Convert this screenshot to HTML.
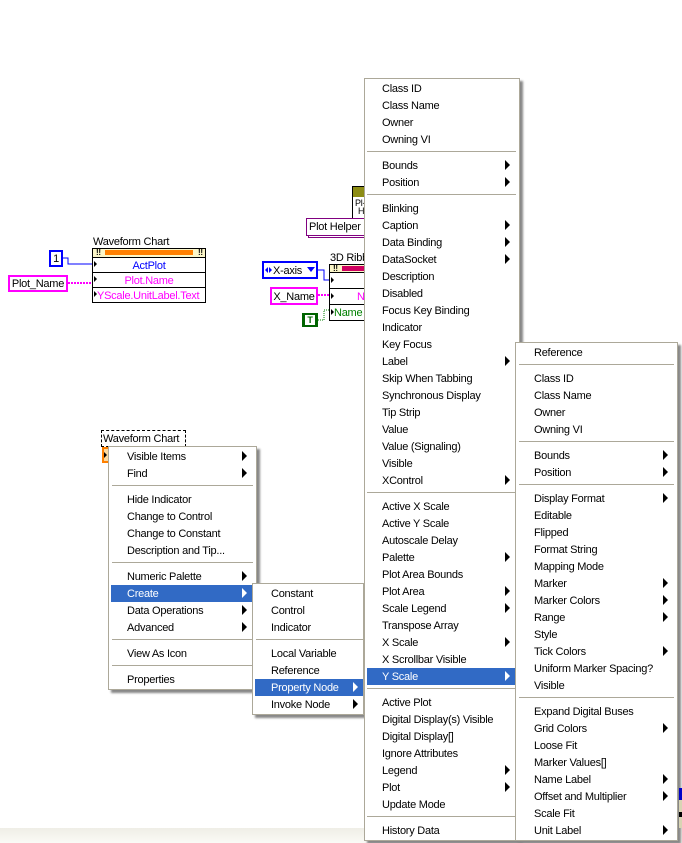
<!DOCTYPE html>
<html><head><meta charset="utf-8"><style>
html,body{margin:0;padding:0;background:#fff}
#p{position:relative;width:682px;height:843px;overflow:hidden;background:#fff;font:11px/20px "Liberation Sans",sans-serif;letter-spacing:-.25px;color:#000}
#p div{position:absolute;box-sizing:border-box;white-space:nowrap}
.m{background:#fff;border:1px solid #aca899;box-shadow:3px 3px 2px #888}
.s{height:1px;background:#aca899}
.h{background:#316ac5}
.a{width:0;height:0;border-left:5px solid #000;border-top:5px solid transparent;border-bottom:5px solid transparent}
.w{border-left-color:#fff!important}
.c{color:#fff}
.n{border:1px solid #000;background:#fff}
</style></head><body><div id="p">
<div style="left:0;top:828px;width:682px;height:15px;background:linear-gradient(#efeee6,#fafaf6)"></div>

<svg style="position:absolute;left:0;top:0" width="682" height="843" shape-rendering="crispEdges">
<path d="M62 258H68V264H92" fill="none" stroke="#00f" stroke-width="1"/>
<path d="M68 283H92" fill="none" stroke="#f0f" stroke-width="2" stroke-dasharray="2 1"/>
<path d="M318 270H324V280H329" fill="none" stroke="#00f"/>
<path d="M318 295H329" fill="none" stroke="#f0f" stroke-width="2" stroke-dasharray="2 1"/>
<path d="M318 320H324V310H329" fill="none" stroke="#008000" stroke-dasharray="1 1"/>
</svg>

<div style="left:93px;top:232px">Waveform Chart</div>
<div class="n" style="left:92px;top:248px;width:114px;height:55px"></div>
<div style="left:93px;top:249px;width:112px;height:8px;background:#fbf6c8"></div>
<div style="left:105px;top:250px;width:88px;height:5px;background:#ff8000"></div>
<div style="left:96px;top:248px;font:bold 8px/10px 'Liberation Sans',sans-serif">!!</div>
<div style="left:198px;top:248px;font:bold 8px/10px 'Liberation Sans',sans-serif">!!</div>
<div style="left:92px;top:257px;width:114px;height:1px;background:#000"></div>
<div style="left:92px;top:272px;width:114px;height:1px;background:#000"></div>
<div style="left:92px;top:287px;width:114px;height:1px;background:#000"></div>
<div class="a" style="left:94px;top:261px;border-left-width:3px;border-top-width:3px;border-bottom-width:3px"></div>
<div class="a" style="left:94px;top:276px;border-left-width:3px;border-top-width:3px;border-bottom-width:3px"></div>
<div class="a" style="left:94px;top:291px;border-left-width:3px;border-top-width:3px;border-bottom-width:3px"></div>
<div style="left:92px;top:256px;width:114px;text-align:center;color:#00f">ActPlot</div>
<div style="left:92px;top:271px;width:114px;text-align:center;color:#f0f">Plot.Name</div>
<div style="left:97px;top:286px;color:#f0f">YScale.UnitLabel.Text</div>
<div style="left:49px;top:250px;width:14px;height:17px;border:2px solid #00f;background:#fff;text-align:center;line-height:15px">1</div>
<div style="left:8px;top:275px;width:60px;height:17px;border:2px solid #f0f;background:#fff;text-align:center;line-height:15px">Plot_Name</div>

<div class="n" style="left:352px;top:186px;width:16px;height:33px"></div>
<div style="left:353px;top:187px;width:14px;height:10px;background:#8c8c14"></div>
<div style="left:355px;top:198px;font-size:9px;line-height:10px">Pl-</div>
<div style="left:358px;top:206px;font-size:9px;line-height:10px">H</div>
<div style="left:308px;top:220px;width:60px;height:18px;border:1px solid #800080;background:#fff"></div>
<div style="left:306px;top:218px;width:62px;height:18px;border:1px solid #800080;background:#fff;padding-left:2px;line-height:17px">Plot Helper</div>

<div style="left:330px;top:248px">3D Ribb</div>
<div class="n" style="left:329px;top:264px;width:40px;height:57px"></div>
<div style="left:330px;top:265px;width:38px;height:8px;background:#fbf6c8"></div>
<div style="left:342px;top:266px;width:26px;height:5px;background:#d00060"></div>
<div style="left:333px;top:264px;font:bold 8px/10px 'Liberation Sans',sans-serif">!!</div>
<div style="left:329px;top:272px;width:40px;height:1px;background:#000"></div>
<div style="left:329px;top:288px;width:40px;height:1px;background:#000"></div>
<div style="left:329px;top:304px;width:40px;height:1px;background:#000"></div>
<div class="a" style="left:331px;top:277px;border-left-width:3px;border-top-width:3px;border-bottom-width:3px"></div>
<div class="a" style="left:331px;top:293px;border-left-width:3px;border-top-width:3px;border-bottom-width:3px"></div>
<div class="a" style="left:331px;top:309px;border-left-width:3px;border-top-width:3px;border-bottom-width:3px"></div>
<div style="left:357px;top:287px;color:#f0f">N</div>
<div style="left:334px;top:303px;color:#008000">Name</div>
<div style="left:262px;top:261px;width:56px;height:18px;border:2px solid #00f;background:#fff;padding-left:9px;line-height:16px">X-axis</div>
<div class="a" style="left:265px;top:267px;border-left:0;border-right:3px solid #00f;border-top-width:3px;border-bottom-width:3px"></div>
<div class="a" style="left:269px;top:267px;border-left:3px solid #00f;border-top-width:3px;border-bottom-width:3px"></div>
<div style="left:307px;top:267px;width:0;height:0;border-top:5px solid #00f;border-left:4px solid transparent;border-right:4px solid transparent"></div>
<div style="left:270px;top:287px;width:48px;height:18px;border:2px solid #f0f;background:#fff;text-align:center;line-height:16px">X_Name</div>
<div style="left:302px;top:313px;width:16px;height:14px;background:#006400;border:2px solid #006400"></div>
<div style="left:305px;top:315px;width:10px;height:10px;background:#fff;color:#006400;font:bold 9px/10px 'Liberation Sans',sans-serif;text-align:center">T</div>

<div style="left:101px;top:430px;width:85px;height:17px;border:1px dashed #000;padding-left:1px;line-height:16px;background:#fff">Waveform Chart</div>
<div style="left:102px;top:447px;width:10px;height:16px;border:2px solid #ff8000;background:#fbd9a0"></div>
<div class="a" style="left:104px;top:452px;border-left-width:3px;border-top-width:3px;border-bottom-width:3px"></div>

<div class="m" style="left:108px;top:446px;width:149px;height:244px"></div>
<div class="h" style="left:111px;top:585px;width:142px;height:17px"></div>
<div style="left:127px;top:447px">Visible Items</div><div class="a" style="left:242px;top:451px"></div>
<div style="left:127px;top:464px">Find</div><div class="a" style="left:242px;top:468px"></div>
<div class="s" style="left:112px;top:485px;width:141px"></div>
<div style="left:127px;top:490px">Hide Indicator</div>
<div style="left:127px;top:507px">Change to Control</div>
<div style="left:127px;top:524px">Change to Constant</div>
<div style="left:127px;top:541px">Description and Tip...</div>
<div class="s" style="left:112px;top:562px;width:141px"></div>
<div style="left:127px;top:567px">Numeric Palette</div><div class="a" style="left:242px;top:571px"></div>
<div class="c" style="left:127px;top:584px">Create</div><div class="a w" style="left:242px;top:588px"></div>
<div style="left:127px;top:601px">Data Operations</div><div class="a" style="left:242px;top:605px"></div>
<div style="left:127px;top:618px">Advanced</div><div class="a" style="left:242px;top:622px"></div>
<div class="s" style="left:112px;top:639px;width:141px"></div>
<div style="left:127px;top:644px">View As Icon</div>
<div class="s" style="left:112px;top:665px;width:141px"></div>
<div style="left:127px;top:670px">Properties</div>

<div class="m" style="left:252px;top:583px;width:112px;height:132px"></div>
<div class="h" style="left:255px;top:679px;width:108px;height:17px"></div>
<div style="left:271px;top:584px">Constant</div>
<div style="left:271px;top:601px">Control</div>
<div style="left:271px;top:618px">Indicator</div>
<div class="s" style="left:256px;top:639px;width:107px"></div>
<div style="left:271px;top:644px">Local Variable</div>
<div style="left:271px;top:661px">Reference</div>
<div class="c" style="left:271px;top:678px">Property Node</div><div class="a w" style="left:353px;top:682px"></div>
<div style="left:271px;top:695px">Invoke Node</div><div class="a" style="left:353px;top:699px"></div>

<div class="m" style="left:364px;top:78px;width:156px;height:763px"></div>
<div class="h" style="left:367px;top:668px;width:148px;height:17px"></div>
<div style="left:382px;top:79px">Class ID</div>
<div style="left:382px;top:96px">Class Name</div>
<div style="left:382px;top:113px">Owner</div>
<div style="left:382px;top:130px">Owning VI</div>
<div class="s" style="left:367px;top:151px;width:149px"></div>
<div style="left:382px;top:156px">Bounds</div><div class="a" style="left:505px;top:160px"></div>
<div style="left:382px;top:173px">Position</div><div class="a" style="left:505px;top:177px"></div>
<div class="s" style="left:367px;top:194px;width:149px"></div>
<div style="left:382px;top:199px">Blinking</div>
<div style="left:382px;top:216px">Caption</div><div class="a" style="left:505px;top:220px"></div>
<div style="left:382px;top:233px">Data Binding</div><div class="a" style="left:505px;top:237px"></div>
<div style="left:382px;top:250px">DataSocket</div><div class="a" style="left:505px;top:254px"></div>
<div style="left:382px;top:267px">Description</div>
<div style="left:382px;top:284px">Disabled</div>
<div style="left:382px;top:301px">Focus Key Binding</div>
<div style="left:382px;top:318px">Indicator</div>
<div style="left:382px;top:335px">Key Focus</div>
<div style="left:382px;top:352px">Label</div><div class="a" style="left:505px;top:356px"></div>
<div style="left:382px;top:369px">Skip When Tabbing</div>
<div style="left:382px;top:386px">Synchronous Display</div>
<div style="left:382px;top:403px">Tip Strip</div>
<div style="left:382px;top:420px">Value</div>
<div style="left:382px;top:437px">Value (Signaling)</div>
<div style="left:382px;top:454px">Visible</div>
<div style="left:382px;top:471px">XControl</div><div class="a" style="left:505px;top:475px"></div>
<div class="s" style="left:367px;top:492px;width:149px"></div>
<div style="left:382px;top:497px">Active X Scale</div>
<div style="left:382px;top:514px">Active Y Scale</div>
<div style="left:382px;top:531px">Autoscale Delay</div>
<div style="left:382px;top:548px">Palette</div><div class="a" style="left:505px;top:552px"></div>
<div style="left:382px;top:565px">Plot Area Bounds</div>
<div style="left:382px;top:582px">Plot Area</div><div class="a" style="left:505px;top:586px"></div>
<div style="left:382px;top:599px">Scale Legend</div><div class="a" style="left:505px;top:603px"></div>
<div style="left:382px;top:616px">Transpose Array</div>
<div style="left:382px;top:633px">X Scale</div><div class="a" style="left:505px;top:637px"></div>
<div style="left:382px;top:650px">X Scrollbar Visible</div>
<div class="c" style="left:382px;top:667px">Y Scale</div><div class="a w" style="left:505px;top:671px"></div>
<div class="s" style="left:367px;top:688px;width:149px"></div>
<div style="left:382px;top:693px">Active Plot</div>
<div style="left:382px;top:710px">Digital Display(s) Visible</div>
<div style="left:382px;top:727px">Digital Display[]</div>
<div style="left:382px;top:744px">Ignore Attributes</div>
<div style="left:382px;top:761px">Legend</div><div class="a" style="left:505px;top:765px"></div>
<div style="left:382px;top:778px">Plot</div><div class="a" style="left:505px;top:782px"></div>
<div style="left:382px;top:795px">Update Mode</div>
<div class="s" style="left:367px;top:816px;width:149px"></div>
<div style="left:382px;top:821px">History Data</div>

<div class="m" style="left:515px;top:342px;width:163px;height:499px"></div>
<div style="left:679px;top:788px;width:3px;height:40px;background:#d8d4b4"></div>
<div style="left:679px;top:788px;width:3px;height:12px;background:#0000c8"></div>
<div style="left:679px;top:812px;width:3px;height:5px;background:#000"></div>
<div style="left:534px;top:343px">Reference</div>
<div class="s" style="left:519px;top:364px;width:155px"></div>
<div style="left:534px;top:369px">Class ID</div>
<div style="left:534px;top:386px">Class Name</div>
<div style="left:534px;top:403px">Owner</div>
<div style="left:534px;top:420px">Owning VI</div>
<div class="s" style="left:519px;top:441px;width:155px"></div>
<div style="left:534px;top:446px">Bounds</div><div class="a" style="left:663px;top:450px"></div>
<div style="left:534px;top:463px">Position</div><div class="a" style="left:663px;top:467px"></div>
<div class="s" style="left:519px;top:484px;width:155px"></div>
<div style="left:534px;top:489px">Display Format</div><div class="a" style="left:663px;top:493px"></div>
<div style="left:534px;top:506px">Editable</div>
<div style="left:534px;top:523px">Flipped</div>
<div style="left:534px;top:540px">Format String</div>
<div style="left:534px;top:557px">Mapping Mode</div>
<div style="left:534px;top:574px">Marker</div><div class="a" style="left:663px;top:578px"></div>
<div style="left:534px;top:591px">Marker Colors</div><div class="a" style="left:663px;top:595px"></div>
<div style="left:534px;top:608px">Range</div><div class="a" style="left:663px;top:612px"></div>
<div style="left:534px;top:625px">Style</div>
<div style="left:534px;top:642px">Tick Colors</div><div class="a" style="left:663px;top:646px"></div>
<div style="left:534px;top:659px">Uniform Marker Spacing?</div>
<div style="left:534px;top:676px">Visible</div>
<div class="s" style="left:519px;top:697px;width:155px"></div>
<div style="left:534px;top:702px">Expand Digital Buses</div>
<div style="left:534px;top:719px">Grid Colors</div><div class="a" style="left:663px;top:723px"></div>
<div style="left:534px;top:736px">Loose Fit</div>
<div style="left:534px;top:753px">Marker Values[]</div>
<div style="left:534px;top:770px">Name Label</div><div class="a" style="left:663px;top:774px"></div>
<div style="left:534px;top:787px">Offset and Multiplier</div><div class="a" style="left:663px;top:791px"></div>
<div style="left:534px;top:804px">Scale Fit</div>
<div style="left:534px;top:821px">Unit Label</div><div class="a" style="left:663px;top:825px"></div>
</div></body></html>
